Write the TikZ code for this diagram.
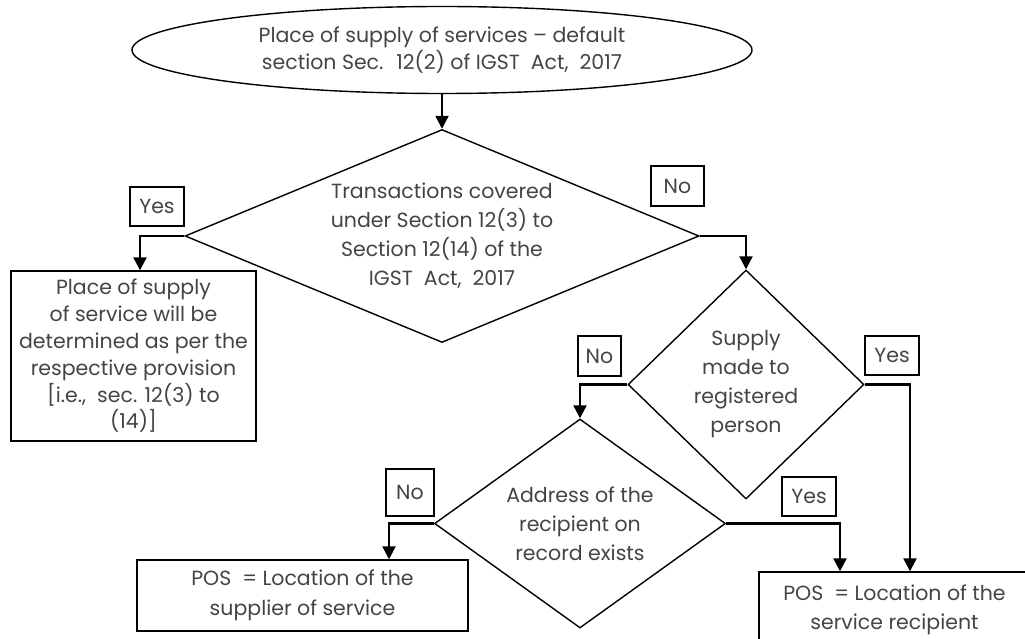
\documentclass[tikz,border=0pt]{standalone}
\usepackage{fontspec}
\setmainfont{Poppins}
\usetikzlibrary{shapes.geometric,arrows.meta}
\definecolor{txt}{HTML}{444444}
\begin{document}
\begin{tikzpicture}[x=1pt,y=-1pt,
  every node/.style={font=\fontsize{20.5}{28}\selectfont, text=txt},
  outline/.style={draw=black, line width=1.4pt},
  boxnode/.style={outline, rectangle, inner sep=0pt, align=center},
  tag/.style={outline, rectangle, inner sep=0pt, align=center},
  decision/.style={outline, diamond, inner sep=0pt, align=center},
  arr/.style={draw=black, line width=2.2pt, -{Triangle[length=13pt,width=13pt]}}]
\useasboundingbox (0,0) rectangle (1025,639);

% start ellipse
\node[outline, ellipse, inner sep=0pt, minimum width=620, minimum height=87, align=center,
      font=\fontsize{20.5}{27}\selectfont] (start) at (442,50)
  {Place of supply of services -- default\\section Sec.~ 12(2) of IGST~ Act,~ 2017};

% decisions
\node[decision, aspect=2.41, minimum width=514, minimum height=213,
      font=\fontsize{20.5}{29}\selectfont] (d1) at (442,236)
  {Transactions covered\\under Section 12(3) to\\Section 12(14) of the\\IGST~ Act,~ 2017};
\node[decision, aspect=1.03, minimum width=236, minimum height=229,
      font=\fontsize{20.5}{29}\selectfont] (d2) at (746,384.5)
  {Supply\\made to\\registered\\person};
\node[decision, aspect=1.39, minimum width=291, minimum height=209,
      font=\fontsize{20.5}{29}\selectfont] (d3) at (580,523.5)
  {Address of the\\recipient on\\record exists};

% result boxes
\node[boxnode, minimum width=245, minimum height=170,
      font=\fontsize{20.5}{26.8}\selectfont] (b1) at (133.5,356)
  {Place of supply\\of service will be\\determined as per the\\respective provision\\{[}i.e.,~ sec. 12(3) to\\(14)]};
\node[boxnode, minimum width=331, minimum height=71,
      font=\fontsize{20.5}{30}\selectfont] (b2) at (302.5,595.5)
  {POS~ = Location of the\\supplier of service};
\node[boxnode, minimum width=271, minimum height=76,
      font=\fontsize{20.5}{29}\selectfont] (b3) at (894.5,610)
  {POS~ = Location of the\\service recipient};

% labels
\node[tag, minimum width=54, minimum height=39] (y1) at (157,206.5) {Yes};
\node[tag, minimum width=53, minimum height=40] (n1) at (677.5,186) {No};
\node[tag, minimum width=43, minimum height=40] (n2) at (599.5,356) {No};
\node[tag, minimum width=54, minimum height=39] (y2) at (892,355.5) {Yes};
\node[tag, minimum width=48, minimum height=47] (n3) at (410,492.5) {No};
\node[tag, minimum width=54, minimum height=39] (y3) at (809,496.5) {Yes};

% connectors
\draw[arr] (start.south) -- (d1.north);
\draw[arr] (d1.west) -| ([xshift=6.5pt]b1.north);
\draw[arr] (d1.east) -| (d2.north);
\draw[arr] (d2.west) -| (d3.north);
\draw[arr] (d2.east) -| ([xshift=15.5pt]b3.north);
\draw[arr] (d3.east) -| ([xshift=-54.5pt]b3.north);
\draw[arr] (d3.west) -| ([xshift=86.5pt]b2.north);
\end{tikzpicture}
\end{document}
